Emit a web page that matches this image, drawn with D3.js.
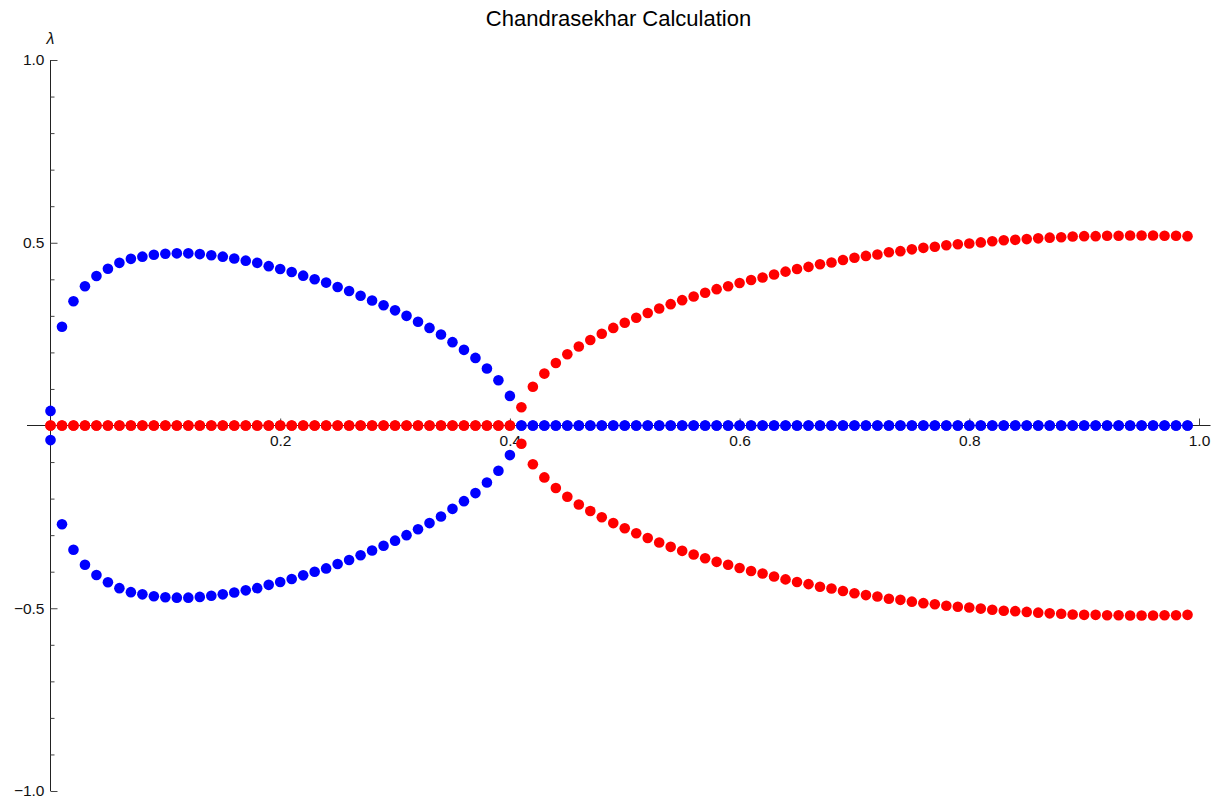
<!DOCTYPE html>
<html>
<head>
<meta charset="utf-8">
<script src="https://cdn.jsdelivr.net/npm/d3@7"></script>
<style>
  body { margin: 0; background: #fff; }
  svg { display: block; }
</style>
</head>
<body>
<svg id="chart" width="1222" height="798"></svg>
<script>
// Parameter grid (horizontal axis)
const mu = [
  0.00, 0.01, 0.02, 0.03, 0.04, 0.05, 0.06, 0.07, 0.08, 0.09,
  0.10, 0.11, 0.12, 0.13, 0.14, 0.15, 0.16, 0.17, 0.18, 0.19,
  0.20, 0.21, 0.22, 0.23, 0.24, 0.25, 0.26, 0.27, 0.28, 0.29,
  0.30, 0.31, 0.32, 0.33, 0.34, 0.35, 0.36, 0.37, 0.38, 0.39,
  0.40, 0.41, 0.42, 0.43, 0.44, 0.45, 0.46, 0.47, 0.48, 0.49,
  0.50, 0.51, 0.52, 0.53, 0.54, 0.55, 0.56, 0.57, 0.58, 0.59,
  0.60, 0.61, 0.62, 0.63, 0.64, 0.65, 0.66, 0.67, 0.68, 0.69,
  0.70, 0.71, 0.72, 0.73, 0.74, 0.75, 0.76, 0.77, 0.78, 0.79,
  0.80, 0.81, 0.82, 0.83, 0.84, 0.85, 0.86, 0.87, 0.88, 0.89,
  0.90, 0.91, 0.92, 0.93, 0.94, 0.95, 0.96, 0.97, 0.98, 0.99
];

// Magnitude of the real part of λ (plotted as ±, blue)
const realPart = [
  0.040, 0.270, 0.340, 0.381, 0.409, 0.429, 0.445, 0.456, 0.462, 0.467,
  0.470, 0.471, 0.471, 0.469, 0.466, 0.462, 0.457, 0.451, 0.445, 0.436,
  0.428, 0.420, 0.410, 0.400, 0.391, 0.379, 0.368, 0.355, 0.342, 0.329,
  0.315, 0.300, 0.284, 0.267, 0.249, 0.228, 0.207, 0.185, 0.156, 0.124,
  0.081, 0.000, 0.000, 0.000, 0.000, 0.000, 0.000, 0.000, 0.000, 0.000,
  0.000, 0.000, 0.000, 0.000, 0.000, 0.000, 0.000, 0.000, 0.000, 0.000,
  0.000, 0.000, 0.000, 0.000, 0.000, 0.000, 0.000, 0.000, 0.000, 0.000,
  0.000, 0.000, 0.000, 0.000, 0.000, 0.000, 0.000, 0.000, 0.000, 0.000,
  0.000, 0.000, 0.000, 0.000, 0.000, 0.000, 0.000, 0.000, 0.000, 0.000,
  0.000, 0.000, 0.000, 0.000, 0.000, 0.000, 0.000, 0.000, 0.000, 0.000
];

// Magnitude of the imaginary part of λ (plotted as ±, red)
const imagPart = [
  0.000, 0.000, 0.000, 0.000, 0.000, 0.000, 0.000, 0.000, 0.000, 0.000,
  0.000, 0.000, 0.000, 0.000, 0.000, 0.000, 0.000, 0.000, 0.000, 0.000,
  0.000, 0.000, 0.000, 0.000, 0.000, 0.000, 0.000, 0.000, 0.000, 0.000,
  0.000, 0.000, 0.000, 0.000, 0.000, 0.000, 0.000, 0.000, 0.000, 0.000,
  0.000, 0.050, 0.106, 0.142, 0.171, 0.195, 0.216, 0.234, 0.251, 0.267,
  0.281, 0.295, 0.308, 0.320, 0.332, 0.343, 0.353, 0.363, 0.373, 0.381,
  0.390, 0.398, 0.405, 0.413, 0.421, 0.428, 0.434, 0.441, 0.446, 0.453,
  0.459, 0.464, 0.468, 0.474, 0.477, 0.482, 0.486, 0.489, 0.493, 0.496,
  0.498, 0.501, 0.504, 0.507, 0.508, 0.510, 0.512, 0.514, 0.515, 0.517,
  0.518, 0.518, 0.519, 0.519, 0.520, 0.520, 0.520, 0.519, 0.519, 0.518
];

// Axis ticks
const xMajorTicks = [0.2, 0.4, 0.6, 0.8, 1.0];
const xMinorTicks = [0.05, 0.1, 0.15, 0.25, 0.3, 0.35, 0.45, 0.5, 0.55, 0.65, 0.7, 0.75, 0.85, 0.9, 0.95];
const yMajorTicks = [-1.0, -0.5, 0.5, 1.0];
const yMinorTicks = [-0.9, -0.8, -0.7, -0.6, -0.4, -0.3, -0.2, -0.1, 0.1, 0.2, 0.3, 0.4, 0.6, 0.7, 0.8, 0.9];

const titleText = "Chandrasekhar Calculation";
const yAxisLabel = "λ";

const FONT = "'Liberation Sans', Arial, Helvetica, sans-serif";
const svg = d3.select("#chart");

const x = d3.scaleLinear().domain([0, 1]).range([50.5, 1199]);
const y = d3.scaleLinear().domain([-1, 1]).range([791, 60]);

const axisColor = "#222";
const tickColor = "#444";

// Title
svg.append("text")
  .attr("x", 618.5)
  .attr("y", 26)
  .attr("text-anchor", "middle")
  .attr("font-family", FONT)
  .attr("font-size", 22)
  .attr("fill", "#000")
  .text(titleText);

// Horizontal axis line (extends a little past the data range on both sides)
svg.append("line")
  .attr("x1", 27).attr("x2", 1210.5)
  .attr("y1", y(0)).attr("y2", y(0))
  .attr("stroke", axisColor).attr("stroke-width", 1);

// Vertical axis line
svg.append("line")
  .attr("x1", x(0)).attr("x2", x(0))
  .attr("y1", y(1)).attr("y2", y(-1))
  .attr("stroke", axisColor).attr("stroke-width", 1);

function styleAxis(g) {
  g.select(".domain").remove();
  g.selectAll(".tick line").attr("stroke", tickColor).attr("stroke-width", 1);
  g.selectAll("text").attr("font-family", FONT).attr("font-size", 15.5).attr("fill", "#111");
}

// X ticks point upward from the axis
svg.append("g")
  .attr("transform", `translate(0,${y(0)})`)
  .call(d3.axisTop(x).tickValues(xMajorTicks).tickSize(7).tickFormat(""))
  .call(styleAxis);
svg.append("g")
  .attr("transform", `translate(0,${y(0)})`)
  .call(d3.axisTop(x).tickValues(xMinorTicks).tickSize(4).tickFormat(""))
  .call(styleAxis);
// X tick labels below the axis
svg.append("g")
  .attr("transform", `translate(0,${y(0)})`)
  .call(d3.axisBottom(x).tickValues(xMajorTicks).tickSize(0).tickPadding(9).tickFormat(d3.format(".1f")))
  .call(styleAxis);

// Y ticks point right from the axis
svg.append("g")
  .attr("transform", `translate(${x(0)},0)`)
  .call(d3.axisRight(y).tickValues(yMajorTicks).tickSize(7).tickFormat(""))
  .call(styleAxis);
svg.append("g")
  .attr("transform", `translate(${x(0)},0)`)
  .call(d3.axisRight(y).tickValues(yMinorTicks).tickSize(4).tickFormat(""))
  .call(styleAxis);
// Y tick labels left of the axis
svg.append("g")
  .attr("transform", `translate(${x(0)},0)`)
  .call(d3.axisLeft(y).tickValues(yMajorTicks).tickSize(0).tickPadding(6).tickFormat(d3.format(".1f")))
  .call(styleAxis);

// Axis label λ above the vertical axis
svg.append("text")
  .attr("x", x(0))
  .attr("y", 44)
  .attr("text-anchor", "middle")
  .attr("font-family", FONT)
  .attr("font-style", "italic")
  .attr("font-size", 16)
  .attr("fill", "#111")
  .text(yAxisLabel);

// Each eigenvalue component is shown as a ± pair
function pairs(values) {
  const pts = [];
  mu.forEach((m, i) => {
    pts.push({ m, v: values[i] });
    pts.push({ m, v: -values[i] });
  });
  return pts;
}

const R = 5.3;
svg.append("g").selectAll("circle")
  .data(pairs(realPart))
  .join("circle")
  .attr("cx", d => x(d.m))
  .attr("cy", d => y(d.v))
  .attr("r", R)
  .attr("fill", "#0000ff");

svg.append("g").selectAll("circle")
  .data(pairs(imagPart))
  .join("circle")
  .attr("cx", d => x(d.m))
  .attr("cy", d => y(d.v))
  .attr("r", R)
  .attr("fill", "#ff0000");
</script>
</body>
</html>
